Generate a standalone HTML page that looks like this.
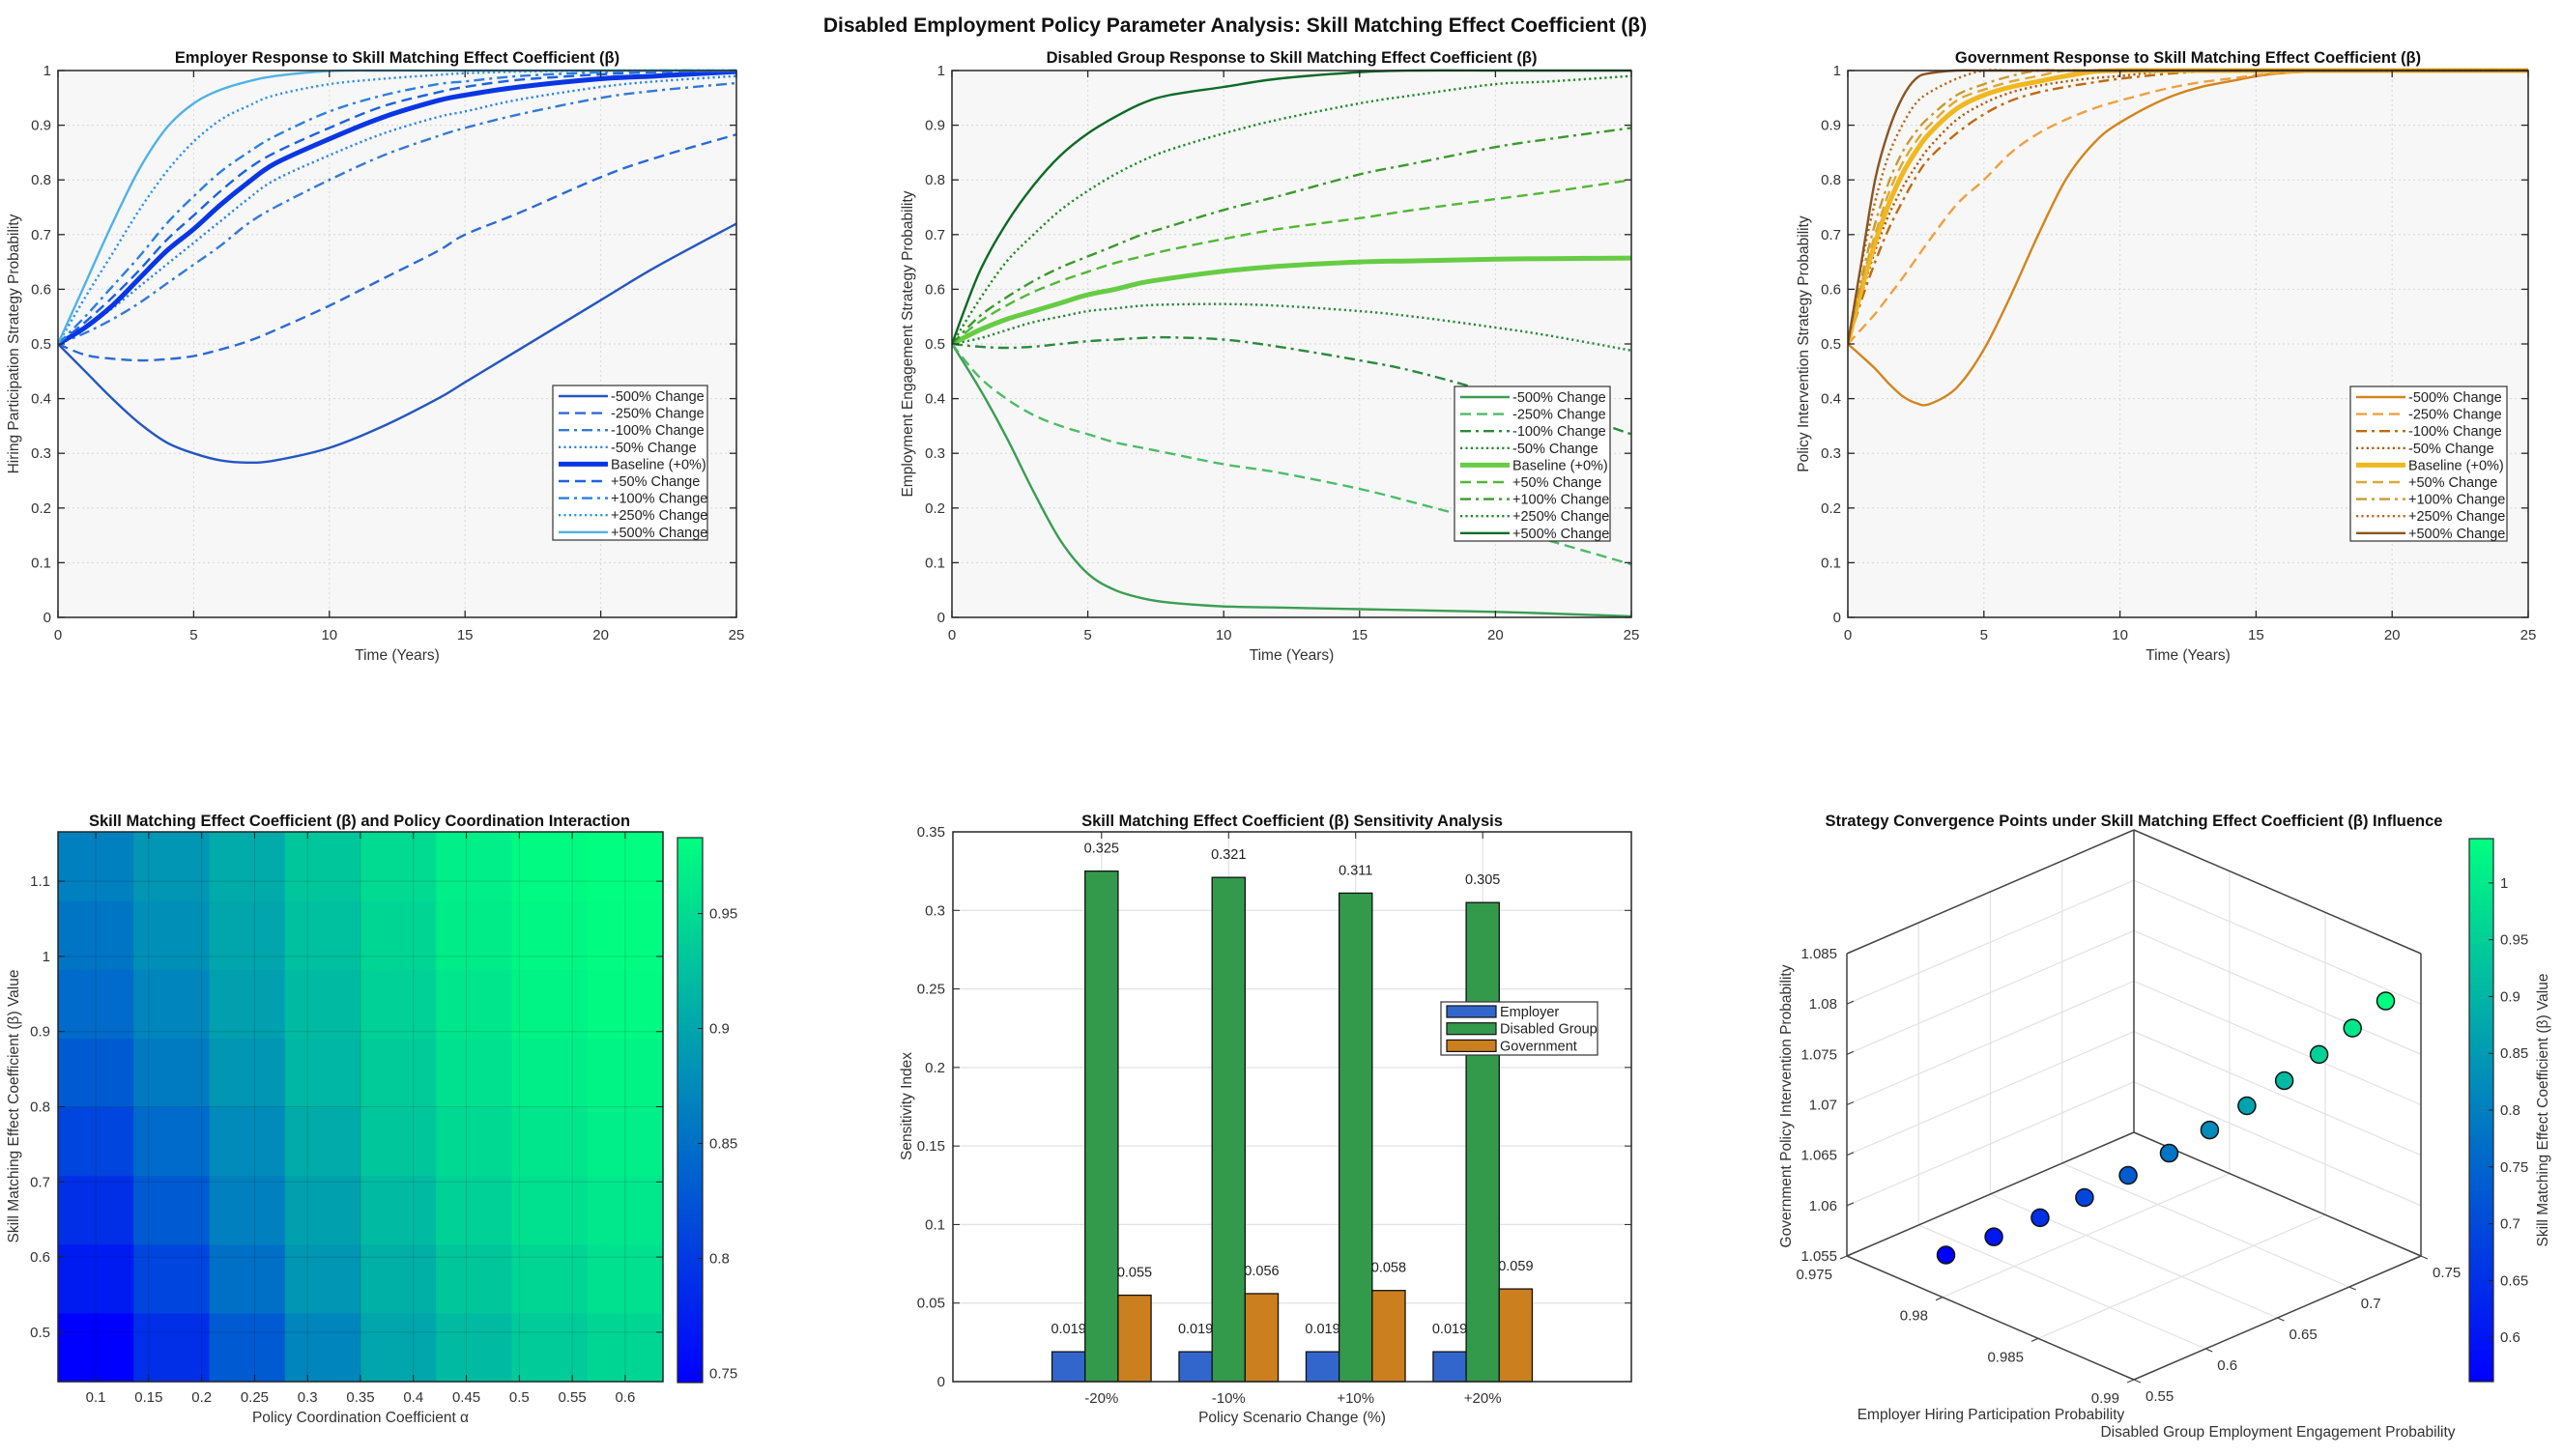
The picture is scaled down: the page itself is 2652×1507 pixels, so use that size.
<!DOCTYPE html>
<html><head><meta charset="utf-8"><style>
html,body{margin:0;padding:0;background:#fff;}
svg{display:block;font-family:"Liberation Sans",Arial,sans-serif;}
</style></head><body>
<svg id="root" width="2652" height="1507" viewBox="0 0 2652 1507" xmlns="http://www.w3.org/2000/svg">
<defs></defs>
<text x="1278" y="33" text-anchor="middle" font-size="21" font-weight="bold" fill="#111">Disabled Employment Policy Parameter Analysis: Skill Matching Effect Coefficient (β)</text>
</svg>
<script>
// ---------- Panel 1: Employer ----------
const empTime = [0,1,2,3,4,5,6,7,8,10,12,14,15,17,20,22,25];
const empM500 = [.5,.45,.40,.355,.32,.30,.287,.283,.287,.31,.35,.40,.43,.49,.58,.64,.72];
const empM250 = [.5,.48,.473,.47,.472,.478,.49,.505,.525,.57,.62,.67,.70,.74,.805,.84,.883];
const empM100 = [.5,.52,.545,.575,.61,.645,.68,.72,.75,.80,.845,.88,.895,.92,.95,.963,.977];
const empM50  = [.5,.53,.565,.605,.645,.685,.725,.765,.80,.845,.885,.915,.925,.947,.97,.98,.99];
const empBase = [.5,.53,.57,.62,.67,.71,.755,.795,.83,.875,.915,.945,.955,.97,.985,.99,.998];
const empP50  = [.5,.54,.585,.635,.69,.735,.78,.82,.85,.895,.935,.96,.97,.983,.993,.997,1];
const empP100 = [.5,.55,.605,.66,.72,.77,.815,.85,.88,.925,.955,.975,.98,.99,.997,1,1];
const empP250 = [.5,.585,.665,.745,.815,.87,.91,.935,.955,.975,.985,.992,.995,.998,1,1,1];
const empP500 = [.5,.61,.72,.82,.895,.94,.965,.98,.99,.999,1,1,1,1,1,1,1];
// ---------- Panel 2: Disabled group ----------
const disTime = [0,1,2,3,4,5,6,7,8,10,12,15,17,20,22,25];
const disM500 = [.5,.42,.33,.23,.14,.08,.05,.035,.027,.02,.018,.015,.013,.01,.007,.002];
const disM250 = [.5,.44,.40,.37,.35,.335,.32,.31,.30,.28,.265,.235,.21,.17,.14,.097];
const disM100 = [.5,.495,.493,.495,.50,.505,.508,.511,.512,.508,.495,.47,.45,.41,.385,.335];
const disM50  = [.5,.51,.525,.54,.55,.56,.565,.57,.572,.573,.57,.56,.55,.53,.515,.488];
const disBase = [.5,.525,.545,.56,.575,.59,.60,.612,.62,.633,.642,.65,.652,.655,.656,.657];
const disP50  = [.5,.54,.57,.595,.615,.632,.648,.66,.672,.692,.71,.73,.745,.765,.778,.80];
const disP100 = [.5,.55,.585,.615,.64,.66,.68,.70,.715,.745,.77,.81,.83,.86,.875,.895];
const disP250 = [.5,.58,.65,.70,.745,.78,.81,.835,.855,.885,.91,.94,.955,.975,.98,.99];
const disP500 = [.5,.63,.72,.79,.845,.885,.915,.94,.955,.97,.985,.997,1,1,1,1];
// ---------- Panel 3: Government ----------
const govTime = [0,0.5,1,1.5,2,2.5,3,4,5,6,7,8,9,10,12,14,17,25];
const govM500 = [.5,.478,.455,.428,.405,.392,.39,.42,.49,.59,.70,.80,.865,.905,.955,.98,.998,1];
const govM250 = [.5,.527,.555,.587,.62,.655,.69,.755,.80,.85,.885,.91,.93,.945,.97,.985,.998,1];
const govM100 = [.5,.58,.65,.71,.76,.805,.84,.885,.92,.945,.96,.97,.978,.985,.995,1,1,1];
const govM50  = [.5,.59,.67,.735,.785,.825,.86,.91,.94,.96,.972,.98,.986,.99,1,1,1,1];
const govBase = [.5,.60,.685,.755,.81,.852,.885,.93,.955,.97,.98,.99,.998,1,1,1,1,1];
const govP50  = [.5,.61,.70,.775,.83,.87,.90,.945,.965,.98,.99,1,1,1,1,1,1,1];
const govP100 = [.5,.62,.72,.795,.85,.888,.915,.955,.975,.99,1,1,1,1,1,1,1,1];
const govP250 = [.5,.645,.76,.845,.90,.94,.96,.985,1,1,1,1,1,1,1,1,1,1];
const govP500 = [.5,.65,.80,.89,.95,.985,.995,1,1,1,1,1,1,1,1,1,1,1];
const seriesLabels = ['-500% Change','-250% Change','-100% Change','-50% Change','Baseline (+0%)','+50% Change','+100% Change','+250% Change','+500% Change'];
const timeTicks = [0,5,10,15,20,25];
const probTicks = [0,0.1,0.2,0.3,0.4,0.5,0.6,0.7,0.8,0.9,1];
// ---------- Heatmap ----------
const alphaVals = [0.1,0.1714,0.2429,0.3143,0.3857,0.4571,0.5286,0.6];
const betaVals = [0.48,0.5714,0.6629,0.7543,0.8457,0.9371,1.0286,1.12];
const heatRow0 = [.746,.79,.83,.87,.90,.92,.935,.945];
const heatRow1 = [.77,.81,.85,.885,.91,.93,.945,.955];
const heatRow2 = [.79,.83,.865,.895,.92,.94,.955,.962];
const heatRow3 = [.81,.845,.875,.905,.93,.948,.96,.968];
const heatRow4 = [.83,.86,.885,.915,.935,.955,.967,.973];
const heatRow5 = [.845,.87,.895,.92,.94,.96,.972,.978];
const heatRow6 = [.855,.88,.90,.925,.945,.965,.976,.981];
const heatRow7 = [.865,.885,.905,.93,.95,.968,.978,.983];
const heatXTicks = [0.1,0.15,0.2,0.25,0.3,0.35,0.4,0.45,0.5,0.55,0.6];
const heatYTicks = [0.5,0.6,0.7,0.8,0.9,1,1.1];
const heatCbTicks = [0.75,0.8,0.85,0.9,0.95];
// ---------- Bar chart ----------
const scenarios = ['-20%','-10%','+10%','+20%'];
const barEmployer = [0.019,0.019,0.019,0.019];
const barDisabled = [0.325,0.321,0.311,0.305];
const barGovernment = [0.055,0.056,0.058,0.059];
const barYTicks = [0,0.05,0.1,0.15,0.2,0.25,0.3,0.35];
// ---------- 3D scatter ----------
const convEmployer = [0.97759,0.97884,0.98005,0.98121,0.98235,0.98342,0.98448,0.98545,0.98643,0.98734,0.98821,0.98908];
const convDisabled = [0.5845,0.6012,0.6173,0.6328,0.6480,0.6623,0.6764,0.6894,0.7024,0.7145,0.7262,0.7377];
const convGovernment = [1.0551,1.0569,1.0588,1.0608,1.0630,1.0652,1.0675,1.0699,1.0724,1.0750,1.0776,1.0803];
const convBeta = [0.562,0.605,0.649,0.692,0.736,0.779,0.822,0.866,0.909,0.953,0.996,1.039];
const s3dXTicks = [0.975,0.98,0.985,0.99];
const s3dYTicks = [0.55,0.6,0.65,0.7,0.75];
const s3dZTicks = [1.055,1.06,1.065,1.07,1.075,1.08,1.085];
const s3dCbTicks = [0.6,0.65,0.7,0.75,0.8,0.85,0.9,0.95,1];

const NS='http://www.w3.org/2000/svg';
const root=document.getElementById('root');
const defs=root.querySelector('defs');
function mk(tag,attrs,parent,txt){const e=document.createElementNS(NS,tag);for(const k in attrs)e.setAttribute(k,attrs[k]);if(txt!==undefined)e.textContent=txt;(parent||root).appendChild(e);return e;}
function fmt(v){return String(+v.toFixed(3));}
function winter(v,lo,hi){let t=(v-lo)/(hi-lo);t=Math.max(0,Math.min(1,t));return `rgb(0,${Math.round(255*t)},${Math.round(255*(1-0.5*t))})`;}
function smooth(p){let d=`M${p[0][0].toFixed(1)},${p[0][1].toFixed(1)}`;const n=p.length;for(let i=0;i<n-1;i++){const p0=p[Math.max(i-1,0)],p1=p[i],p2=p[i+1],p3=p[Math.min(i+2,n-1)];const c1=[p1[0]+(p2[0]-p0[0])/6,p1[1]+(p2[1]-p0[1])/6];const c2=[p2[0]-(p3[0]-p1[0])/6,p2[1]-(p3[1]-p1[1])/6];d+=` C${c1[0].toFixed(1)},${c1[1].toFixed(1)} ${c2[0].toFixed(1)},${c2[1].toFixed(1)} ${p2[0].toFixed(1)},${p2[1].toFixed(1)}`;}return d;}

const DASH={solid:'',dash:'11 6',dashdot:'11 5 3 5',dot:'2.2 3.2'};
const styleKinds=['solid','dash','dashdot','dot','solid','dash','dashdot','dot','solid'];

function linePanel(cfg){
  const {L,R,T,B,time,series,colors,title,ylabel,legend,key}=cfg;
  const g=mk('g',{});
  
  
  const xs=t=>L+(t-0)/25*(R-L), ys=v=>B-(v-0)/1*(B-T);
  const bg=mk('rect',{x:L,y:T,width:R-L,height:B-T,fill:'#f7f7f7'},g);
  
  
  timeTicks.forEach(t=>{const l=mk('line',{x1:xs(t),x2:xs(t),y1:T,y2:B,stroke:'#d6d6d6','stroke-dasharray':'2 3'},g);
    
    });
  probTicks.forEach(v=>{const l=mk('line',{x1:L,x2:R,y1:ys(v),y2:ys(v),stroke:'#d6d6d6','stroke-dasharray':'2 3'},g);
    
    });
  const cp=mk('clipPath',{id:'clip-'+key},defs);mk('rect',{x:L,y:T-3,width:R-L+2,height:B-T+6},cp);
  const lg=mk('g',{'clip-path':`url(#clip-${key})`},g);
  series.forEach((vals,i)=>{const pts=vals.map((v,j)=>[xs(time[j]),ys(v)]);
    const p=mk('path',{d:smooth(pts),fill:'none',stroke:colors[i],'stroke-width':i===4?5:2.4,'stroke-dasharray':DASH[styleKinds[i]],'stroke-linejoin':'round'},lg);
    
    });
  const box=mk('rect',{x:L,y:T,width:R-L,height:B-T,fill:'none',stroke:'#262626','stroke-width':1.5},g);
  
  
  timeTicks.forEach(t=>{mk('line',{x1:xs(t),x2:xs(t),y1:B,y2:B-7,stroke:'#262626','stroke-width':1.3},g);mk('line',{x1:xs(t),x2:xs(t),y1:T,y2:T+7,stroke:'#262626','stroke-width':1.3},g);
    const tx=mk('text',{x:xs(t),y:B+23,'text-anchor':'middle','font-size':15,fill:'#333'},g,String(t));
    
    });
  probTicks.forEach(v=>{mk('line',{x1:L,x2:L+7,y1:ys(v),y2:ys(v),stroke:'#262626','stroke-width':1.3},g);mk('line',{x1:R,x2:R-7,y1:ys(v),y2:ys(v),stroke:'#262626','stroke-width':1.3},g);
    const tx=mk('text',{x:L-7,y:ys(v)+5,'text-anchor':'end','font-size':15,fill:'#333'},g,fmt(v));
    
    });
  const ti=mk('text',{x:(L+R)/2,y:T-8,'text-anchor':'middle','font-size':16.5,'font-weight':'bold',fill:'#111'},g,title);
  
  
  const xl=mk('text',{x:(L+R)/2,y:B+44,'text-anchor':'middle','font-size':15.5,fill:'#333'},g,'Time (Years)');
  
  
  const yx=L-41,yy=(T+B)/2;
  const yl=mk('text',{x:yx,y:yy,'text-anchor':'middle','font-size':15.5,fill:'#333',transform:`rotate(-90 ${yx} ${yy})`},g,ylabel);
  
  
  const lgd=mk('g',{},g);
  
  
  const r=mk('rect',{x:legend[0],y:legend[1],width:legend[2],height:legend[3],fill:'#fff',stroke:'#333','stroke-width':1.2},lgd);
  
  
  seriesLabels.forEach((lab,i)=>{const y=legend[1]+11+i*17.6;
    const ln=mk('line',{x1:legend[0]+6,x2:legend[0]+57,y1:y,y2:y,stroke:colors[i],'stroke-width':i===4?5:2.4,'stroke-dasharray':DASH[styleKinds[i]]},lgd);
    
    
    const tx=mk('text',{x:legend[0]+60,y:y+5,'font-size':14.5,fill:'#222'},lgd,lab);
    
    });
}

linePanel({key:'employer',L:60,R:762,T:73,B:639,time:empTime,
  series:[empM500,empM250,empM100,empM50,empBase,empP50,empP100,empP250,empP500],
  colors:['#2456c2','#2a6ad6','#3479d6','#2f86e6','#0836e4','#1c62e0','#2a7fe2','#2f92ee','#50b2e8'],
  title:'Employer Response to Skill Matching Effect Coefficient (β)',ylabel:'Hiring Participation Strategy Probability',legend:[572,399,160,160]});
linePanel({key:'disabled',L:985,R:1688,T:73,B:639,time:disTime,
  series:[disM500,disM250,disM100,disM50,disBase,disP50,disP100,disP250,disP500],
  colors:['#3a9e52','#4cbc68','#2a8a3c','#27883a','#66cc44','#52b836','#3a9a2c','#1f8a28','#0d6b25'],
  title:'Disabled Group Response to Skill Matching Effect Coefficient (β)',ylabel:'Employment Engagement Strategy Probability',legend:[1505,400,161,160]});
linePanel({key:'government',L:1912,R:2616,T:73,B:639,time:govTime,
  series:[govM500,govM250,govM100,govM50,govBase,govP50,govP100,govP250,govP500],
  colors:['#d4841c','#f0a040','#c06a10','#b05a10','#f0b820','#e0a830','#c89a30','#b86818','#8b5420'],
  title:'Government Response to Skill Matching Effect Coefficient (β)',ylabel:'Policy Intervention Strategy Probability',legend:[2432,400,162,160]});

// ---------- Heatmap ----------
(function(){
  const L=60,R=686,T=861,B=1430,x0=0.0643,x1=0.6357,y0=0.4343,y1=1.1657,c0=0.746,c1=0.983;
  const xs=v=>L+(v-x0)/(x1-x0)*(R-L), ys=v=>B-(v-y0)/(y1-y0)*(B-T);
  const g=mk('g',{});
  
  
  const rows=[heatRow0,heatRow1,heatRow2,heatRow3,heatRow4,heatRow5,heatRow6,heatRow7];
  const da=alphaVals[1]-alphaVals[0], db=betaVals[1]-betaVals[0];
  rows.forEach((row,ri)=>row.forEach((v,ci)=>{
    const xa=xs(alphaVals[ci]-da/2), xb=xs(alphaVals[ci]+da/2), ya=ys(betaVals[ri]+db/2), yb=ys(betaVals[ri]-db/2);
    const c=mk('rect',{x:xa,y:ya,width:xb-xa+0.6,height:yb-ya+0.6,fill:winter(v,c0,c1)},g);
    
    }));
  heatXTicks.forEach(t=>{mk('line',{x1:xs(t),x2:xs(t),y1:T,y2:B,stroke:'rgba(0,0,0,0.14)','stroke-width':1},g);
    mk('line',{x1:xs(t),x2:xs(t),y1:B,y2:B-7,stroke:'#222'},g);mk('line',{x1:xs(t),x2:xs(t),y1:T,y2:T+7,stroke:'#222'},g);
    const tx=mk('text',{x:xs(t),y:B+21,'text-anchor':'middle','font-size':15,fill:'#333'},g,fmt(t));
    
    });
  heatYTicks.forEach(t=>{mk('line',{x1:L,x2:R,y1:ys(t),y2:ys(t),stroke:'rgba(0,0,0,0.14)'},g);
    mk('line',{x1:L,x2:L+7,y1:ys(t),y2:ys(t),stroke:'#222'},g);mk('line',{x1:R,x2:R-7,y1:ys(t),y2:ys(t),stroke:'#222'},g);
    const tx=mk('text',{x:L-8,y:ys(t)+5,'text-anchor':'end','font-size':15,fill:'#333'},g,fmt(t));
    
    });
  mk('rect',{x:L,y:T,width:R-L,height:B-T,fill:'none',stroke:'#262626','stroke-width':1.5},g);
  const ti=mk('text',{x:372,y:855,'text-anchor':'middle','font-size':16.5,'font-weight':'bold',fill:'#111'},g,'Skill Matching Effect Coefficient (β) and Policy Coordination Interaction');
  
  
  const xl=mk('text',{x:373,y:1472,'text-anchor':'middle','font-size':15.5,fill:'#333'},g,'Policy Coordination Coefficient α');
  
  
  const yl=mk('text',{x:19,y:1145,'text-anchor':'middle','font-size':15.5,fill:'#333',transform:'rotate(-90 19 1145)'},g,'Skill Matching Effect Coefficient (β) Value');
  
  
  const cbL=701,cbR=727,cbT=867,cbB=1431;
  const gr=mk('linearGradient',{id:'winterGrad',x1:0,y1:1,x2:0,y2:0},defs);
  mk('stop',{offset:0,'stop-color':'rgb(0,0,255)'},gr);mk('stop',{offset:1,'stop-color':'rgb(0,255,128)'},gr);
  const cb=mk('rect',{x:cbL,y:cbT,width:cbR-cbL,height:cbB-cbT,fill:'url(#winterGrad)',stroke:'#262626','stroke-width':1.2},g);
  
  
  heatCbTicks.forEach(t=>{const y=cbB-(t-c0)/(c1-c0)*(cbB-cbT);
    mk('line',{x1:cbR,x2:cbR-5,y1:y,y2:y,stroke:'#222'},g);
    const tx=mk('text',{x:cbR+7,y:y+5,'font-size':15,fill:'#333'},g,fmt(t));
    
    });
})();

// ---------- Bar chart ----------
(function(){
  const L=986,R=1688,T=861,B=1430,xmin=-0.17,xmax=5.17,ymax=0.35;
  const xs=v=>L+(v-xmin)/(xmax-xmin)*(R-L), ys=v=>B-v/ymax*(B-T);
  const g=mk('g',{});
  
  
  mk('rect',{x:L,y:T,width:R-L,height:B-T,fill:'#fff'},g);
  barYTicks.forEach(t=>{mk('line',{x1:L,x2:R,y1:ys(t),y2:ys(t),stroke:'#e3e3e3','stroke-width':1.3},g);
    mk('line',{x1:L,x2:L+7,y1:ys(t),y2:ys(t),stroke:'#222'},g);mk('line',{x1:R,x2:R-7,y1:ys(t),y2:ys(t),stroke:'#222'},g);
    const tx=mk('text',{x:L-8,y:ys(t)+5,'text-anchor':'end','font-size':15,fill:'#333'},g,fmt(t));
    
    });
  scenarios.forEach((s,i)=>{const x=xs(i+1);mk('line',{x1:x,x2:x,y1:T,y2:B,stroke:'#e3e3e3','stroke-width':1.3},g);
    mk('line',{x1:x,x2:x,y1:B,y2:B-7,stroke:'#222'},g);mk('line',{x1:x,x2:x,y1:T,y2:T+7,stroke:'#222'},g);
    const tx=mk('text',{x:x,y:B+22,'text-anchor':'middle','font-size':15,fill:'#333'},g,s);
    
    });
  const groups=[barEmployer,barDisabled,barGovernment], cols=['#3366cc','#339a4c','#cc7f1e'], names=['employer','disabled-group','government'];
  const bw=0.26;
  groups.forEach((vals,gi)=>vals.forEach((v,i)=>{const cx=xs(i+1+(gi-1)*bw);const w=xs(bw)-xs(0);
    const b=mk('rect',{x:cx-w/2,y:ys(v),width:w,height:ys(0)-ys(v),fill:cols[gi],stroke:'#111','stroke-width':1.3},g);
    
    }));
  groups.forEach((vals,gi)=>vals.forEach((v,i)=>{const cx=xs(i+1+(gi-1)*bw);
    const tx=mk('text',{x:cx,y:ys(v)-19,'text-anchor':'middle','font-size':14.5,fill:'#222'},g,v.toFixed(3));
    
    }));
  mk('rect',{x:L,y:T,width:R-L,height:B-T,fill:'none',stroke:'#262626','stroke-width':1.5},g);
  const ti=mk('text',{x:1337,y:855,'text-anchor':'middle','font-size':16.5,'font-weight':'bold',fill:'#111'},g,'Skill Matching Effect Coefficient (β) Sensitivity Analysis');
  
  
  const xl=mk('text',{x:1337,y:1472,'text-anchor':'middle','font-size':15.5,fill:'#333'},g,'Policy Scenario Change (%)');
  
  
  const yl=mk('text',{x:943,y:1145,'text-anchor':'middle','font-size':15.5,fill:'#333',transform:'rotate(-90 943 1145)'},g,'Sensitivity Index');
  
  
  const lg=mk('g',{},g);
  
  
  mk('rect',{x:1491,y:1037,width:162,height:55,fill:'#fff',stroke:'#333','stroke-width':1.2},lg);
  ['Employer','Disabled Group','Government'].forEach((n,i)=>{const y=1047+i*17.7;
    const sw=mk('rect',{x:1497,y:y-6,width:51,height:12,fill:cols[i],stroke:'#111','stroke-width':1.2},lg);
    
    
    const tx=mk('text',{x:1552,y:y+5,'font-size':14.5,fill:'#222'},lg,n);
    
    });
})();

// ---------- 3D scatter ----------
(function(){
  const O=[1911,1300], ax=[297,128], by=[297,-128], cz=[0,-313];
  const xr=[0.975,0.99], yr=[0.55,0.75], zr=[1.055,1.085];
  function P(x,y,z){const a=(x-xr[0])/(xr[1]-xr[0]),b=(y-yr[0])/(yr[1]-yr[0]),c=(z-zr[0])/(zr[1]-zr[0]);return [O[0]+a*ax[0]+b*by[0]+c*cz[0],O[1]+a*ax[1]+b*by[1]+c*cz[1]];}
  const g=mk('g',{});
  
  
  const gl=(p,q,c,w)=>mk('line',{x1:p[0],y1:p[1],x2:q[0],y2:q[1],stroke:c,'stroke-width':w},g);
  const GC='#e2e2e2';
  s3dZTicks.forEach(z=>{const l1=gl(P(xr[0],yr[0],z),P(xr[0],yr[1],z),GC,1.2);
    const l2=gl(P(xr[0],yr[1],z),P(xr[1],yr[1],z),GC,1.2);});
  s3dYTicks.forEach(y=>{const l1=gl(P(xr[0],y,zr[0]),P(xr[0],y,zr[1]),GC,1.2);
    const l2=gl(P(xr[0],y,zr[0]),P(xr[1],y,zr[0]),GC,1.2);});
  s3dXTicks.forEach(x=>{const l1=gl(P(x,yr[1],zr[0]),P(x,yr[1],zr[1]),GC,1.2);
    const l2=gl(P(x,yr[0],zr[0]),P(x,yr[1],zr[0]),GC,1.2);});
  const EC='#444';
  const edges=[[[0,1,1],[0,0,1]],[[0,1,1],[1,1,1]],[[0,1,1],[0,1,0]],[[0,0,1],[0,0,0]],[[1,1,1],[1,1,0]],[[0,1,0],[0,0,0]],[[0,1,0],[1,1,0]],[[0,0,0],[1,0,0]],[[1,0,0],[1,1,0]]];
  edges.forEach(e=>{const f=q=>P(xr[q[0]],yr[q[1]],zr[q[2]]);const l=gl(f(e[0]),f(e[1]),EC,1.5);
    
    });
  s3dZTicks.forEach(z=>{const p=P(xr[0],yr[0],z);gl(p,[p[0]+7,p[1]-3],EC,1.2);
    const tx=mk('text',{x:p[0]-10,y:p[1]+5,'text-anchor':'end','font-size':15,fill:'#333'},g,fmt(z));
    
    });
  s3dXTicks.forEach(x=>{const p=P(x,yr[0],zr[0]);gl(p,[p[0]-7,p[1]+3],EC,1.2);
    const tx=mk('text',{x:p[0]-15,y:p[1]+24,'text-anchor':'end','font-size':15,fill:'#333'},g,fmt(x));
    
    });
  s3dYTicks.forEach(y=>{const p=P(xr[1],y,zr[0]);gl(p,[p[0]+7,p[1]+3],EC,1.2);
    const tx=mk('text',{x:p[0]+12,y:p[1]+22,'text-anchor':'start','font-size':15,fill:'#333'},g,fmt(y));
    
    });
  const bmin=0.561,bmax=1.039;
  convEmployer.forEach((x,i)=>{const p=P(x,convDisabled[i],convGovernment[i]);
    const c=mk('circle',{cx:p[0],cy:p[1],r:9,fill:winter(convBeta[i],bmin,bmax),stroke:'#111','stroke-width':1.5},g);
    
    });
  const ti=mk('text',{x:2208,y:855,'text-anchor':'middle','font-size':16.5,'font-weight':'bold',fill:'#111'},g,'Strategy Convergence Points under Skill Matching Effect Coefficient (β) Influence');
  
  
  const xl=mk('text',{x:2060,y:1469,'text-anchor':'middle','font-size':15.5,fill:'#333'},g,'Employer Hiring Participation Probability');
  
  
  const yl=mk('text',{x:2357,y:1487,'text-anchor':'middle','font-size':15.5,fill:'#333'},g,'Disabled Group Employment Engagement Probability');
  
  
  const zl=mk('text',{x:1853,y:1145,'text-anchor':'middle','font-size':15.5,fill:'#333',transform:'rotate(-90 1853 1145)'},g,'Government Policy Intervention Probability');
  
  
  const cbL=2555,cbR=2580,cbT=868,cbB=1430;
  const cb=mk('rect',{x:cbL,y:cbT,width:cbR-cbL,height:cbB-cbT,fill:'url(#winterGrad)',stroke:'#262626','stroke-width':1.2},g);
  
  
  s3dCbTicks.forEach(t=>{const y=cbB-(t-bmin)/(bmax-bmin)*(cbB-cbT);
    mk('line',{x1:cbR,x2:cbR-5,y1:y,y2:y,stroke:'#222'},g);
    const tx=mk('text',{x:cbR+7,y:y+5,'font-size':15,fill:'#333'},g,fmt(t));
    
    });
  const cl=mk('text',{x:2636,y:1149,'text-anchor':'middle','font-size':15.5,fill:'#333',transform:'rotate(-90 2636 1149)'},g,'Skill Matching Effect Coefficient (β) Value');
  
  
})();
</script>
</body></html>
